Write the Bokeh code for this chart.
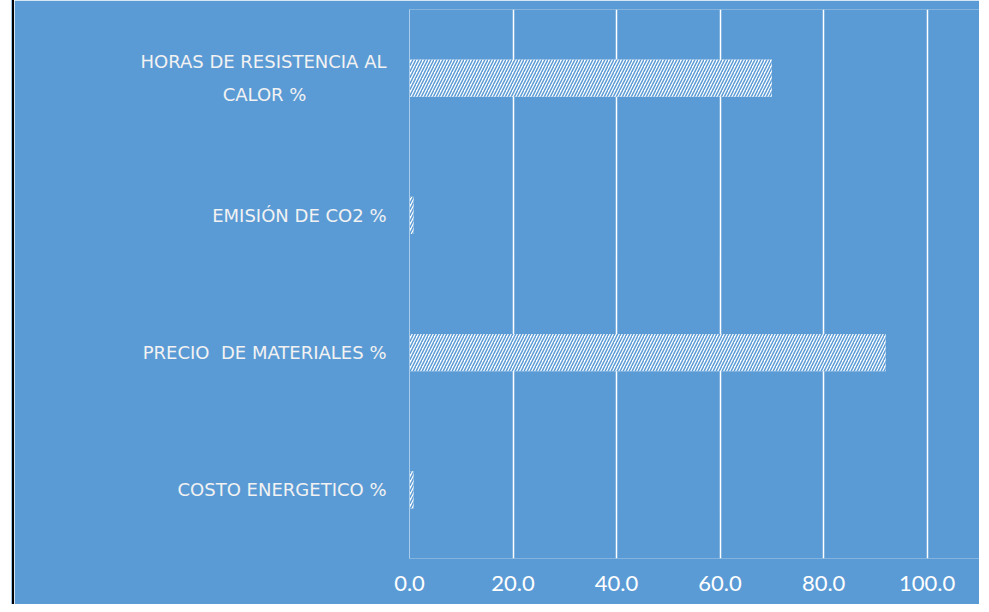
from bokeh.plotting import figure
from bokeh.models import FactorRange, Range1d, FixedTicker, NumeralTickFormatter
from bokeh.embed import file_html
from bokeh.resources import INLINE

NBSP = "\u00a0"
categories = ["COSTO ENERGETICO %", "PRECIO " + NBSP + "DE MATERIALES %", "EMISIÓN DE CO2 %",
              "HORAS DE RESISTENCIA AL\nCALOR %" + NBSP * 14]
values = [0.8, 92.0, 0.8, 70.0]
x_ticks = [0, 20, 40, 60, 80, 100]

BG = "#5B9BD5"
LABEL_FONT = "DejaVu Sans"

p = figure(width=967, height=604, output_backend="svg", toolbar_location=None,
           y_range=FactorRange(factors=categories), x_range=Range1d(0, 110.5),
           min_border_left=395, min_border_right=0, min_border_top=9, min_border_bottom=46,
           background_fill_color=BG, border_fill_color=BG, outline_line_color=None,
           styles={"border-left": "2px solid #000000", "margin-left": "12px",
                   "box-shadow": "-1px 0 0 #9DC3E6"})

p.hbar(y=categories, right=values, left=0, height=0.27, fill_color="white", line_color=None,
       hatch_pattern="/", hatch_color=BG, hatch_scale=6, hatch_weight=1.5)

p.xgrid.ticker = FixedTicker(ticks=x_ticks[1:])
p.xgrid.grid_line_color = "white"
p.xgrid.grid_line_width = 1.5
p.ygrid.grid_line_color = None

xa = p.xaxis[0]
xa.ticker = FixedTicker(ticks=x_ticks)
xa.formatter = NumeralTickFormatter(format="0.0")
xa.axis_line_color = None
xa.major_tick_line_color = None
xa.minor_tick_line_color = None
xa.major_label_standoff = 11
xa.major_label_text_font = "Lato"
xa.major_label_text_font_size = "22px"
xa.major_label_text_color = "#FFFFFF"

ya = p.yaxis[0]
ya.axis_line_color = "#A9CCEB"
ya.axis_line_width = 1
ya.major_tick_line_color = None
ya.minor_tick_line_color = None
ya.major_label_standoff = 17
ya.major_label_text_font = LABEL_FONT
ya.major_label_text_font_size = "18px"
ya.major_label_text_line_height = 1.6
ya.major_label_text_color = "#F2F2F2"

open("out.html", "w").write(file_html(p, INLINE))
